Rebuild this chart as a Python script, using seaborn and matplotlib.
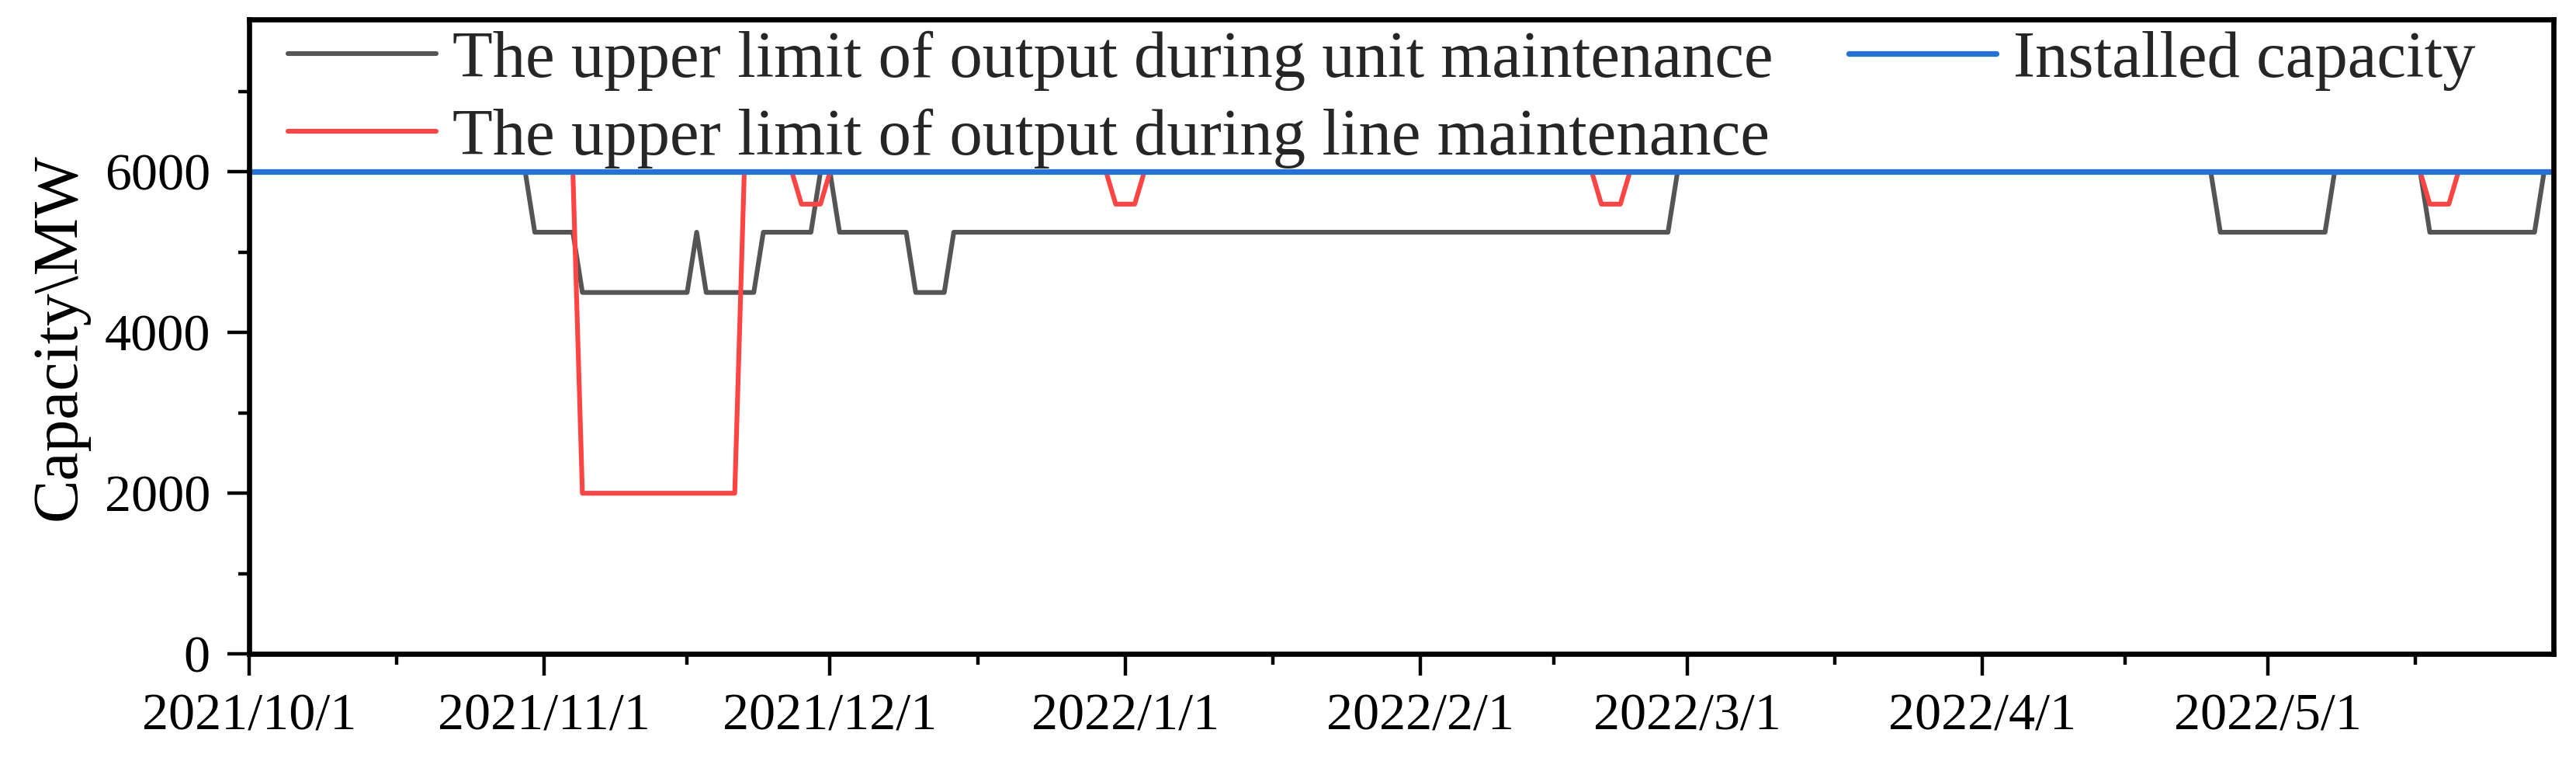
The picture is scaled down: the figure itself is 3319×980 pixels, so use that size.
import matplotlib.dates as mdates
import matplotlib.pyplot as plt
import pandas as pd
import seaborn as sns
from matplotlib.ticker import FixedLocator, FuncFormatter, MultipleLocator

# Излом-точки рядов (между ними — прямые отрезки, как в оригинале)
unit_dates = [
    "2021-10-01", "2021-10-30", "2021-10-31", "2021-11-04", "2021-11-05",
    "2021-11-16", "2021-11-17", "2021-11-18", "2021-11-23", "2021-11-24",
    "2021-11-29", "2021-11-30", "2021-12-01", "2021-12-02", "2021-12-09",
    "2021-12-10", "2021-12-13", "2021-12-14", "2022-02-27", "2022-02-28",
    "2022-04-25", "2022-04-26", "2022-05-07", "2022-05-08", "2022-05-17",
    "2022-05-18", "2022-05-29", "2022-05-30", "2022-05-31",
]
unit_mw = [
    6000, 6000, 5250, 5250, 4500,
    4500, 5250, 4500, 4500, 5250,
    5250, 6000, 6000, 5250, 5250,
    4500, 4500, 5250, 5250, 6000,
    6000, 5250, 5250, 6000, 6000,
    5250, 5250, 6000, 6000,
]

line_dates = [
    "2021-10-01", "2021-11-04", "2021-11-05", "2021-11-21", "2021-11-22",
    "2021-11-27", "2021-11-28", "2021-11-30", "2021-12-01", "2021-12-30",
    "2021-12-31", "2022-01-02", "2022-01-03", "2022-02-19", "2022-02-20",
    "2022-02-22", "2022-02-23", "2022-05-17", "2022-05-18", "2022-05-20",
    "2022-05-21", "2022-05-31",
]
line_mw = [
    6000, 6000, 2000, 2000, 6000,
    6000, 5600, 5600, 6000, 6000,
    5600, 5600, 6000, 6000, 5600,
    5600, 6000, 6000, 5600, 5600,
    6000, 6000,
]

capacity_dates = ["2021-10-01", "2022-05-31"]
capacity_mw = [6000, 6000]

month_ticks = [
    "2021-10-01", "2021-11-01", "2021-12-01", "2022-01-01",
    "2022-02-01", "2022-03-01", "2022-04-01", "2022-05-01", "2022-06-01",
]

label_unit = "The upper limit of output during unit maintenance"
label_line = "The upper limit of output during line maintenance"
label_cap = "Installed capacity"

sns.set_theme(style="ticks")
plt.rcParams["font.family"] = ["Liberation Serif", "DejaVu Serif"]

fig = plt.figure(figsize=(33.19, 9.8), dpi=100)
ax = fig.add_axes([0.0967, 0.1408, 0.8946, 0.8337])

sns.lineplot(x=pd.to_datetime(unit_dates), y=unit_mw, ax=ax, color="#555555",
             linewidth=4.4, label=label_unit, estimator=None, sort=False)
sns.lineplot(x=pd.to_datetime(line_dates), y=line_mw, ax=ax, color="#FF4444",
             linewidth=4.4, label=label_line, estimator=None, sort=False)
sns.lineplot(x=pd.to_datetime(capacity_dates), y=capacity_mw, ax=ax, color="#2272DC",
             linewidth=5.2, label=label_cap, estimator=None, sort=False)

ax.set_xlim(pd.Timestamp("2021-10-01"), pd.Timestamp("2022-05-31"))
ax.set_ylim(0, 7900)

# Оси: мажорные тики по месяцам, минорные — посередине
months = pd.to_datetime(month_ticks)
ax.xaxis.set_major_locator(FixedLocator(mdates.date2num(months[:-1])))
mids = [(a + b) / 2 for a, b in zip(mdates.date2num(months[:-1]), mdates.date2num(months[1:]))]
ax.xaxis.set_minor_locator(FixedLocator(mids))
ax.xaxis.set_major_formatter(FuncFormatter(
    lambda v, _: (lambda d: f"{d.year}/{d.month}/{d.day}")(mdates.num2date(v))))
ax.yaxis.set_major_locator(MultipleLocator(2000))
ax.yaxis.set_minor_locator(MultipleLocator(1000))

ax.tick_params(axis="both", which="major", direction="out", length=20, width=3.2,
               labelsize=49, pad=16, color="black", labelcolor="black")
ax.tick_params(axis="both", which="minor", direction="out", length=10, width=3.2,
               color="black")
for s in ax.spines.values():
    s.set_visible(True)
    s.set_linewidth(4.8)
    s.set_color("black")

ax.set_xlabel("")
ax.set_ylabel("Capacity\\MW", fontsize=60, labelpad=14, color="black")

ax.legend(loc="upper left", bbox_to_anchor=(0.012, 1.0), ncol=2, frameon=False,
          fontsize=61, handlelength=2.25, handletextpad=0.25, columnspacing=1.15,
          labelspacing=0.27, borderaxespad=0, borderpad=0.17)

fig.savefig("out.png", dpi=100, facecolor="white")
